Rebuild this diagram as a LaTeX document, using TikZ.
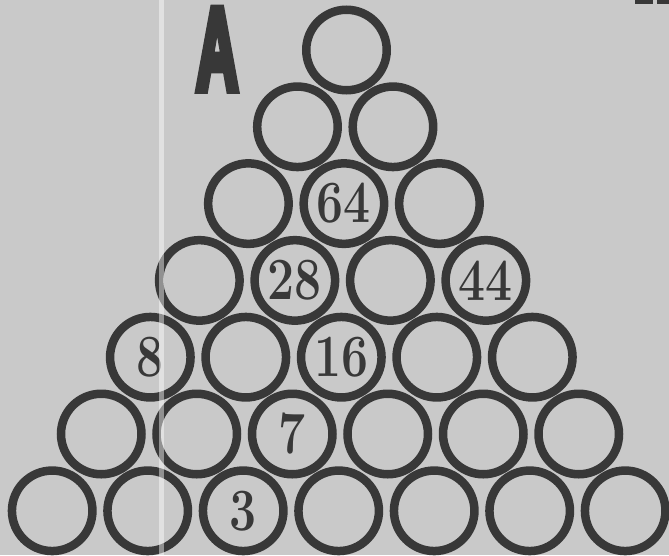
\documentclass[tikz,border=0pt]{standalone}
\usepackage{graphicx}
\usepackage{fontspec}
\newfontfamily\headfont[FakeBold=8]{Liberation Sans Bold}
\definecolor{bgc}{RGB}{201,201,201}
\definecolor{inkc}{RGB}{56,56,56}
\begin{document}
\begin{tikzpicture}[x=1pt,y=-1pt,
  ring/.style={circle,draw=inkc,line width=8.5pt,minimum size=80.5pt,inner sep=0pt},
  digit/.style={inner sep=0pt,text=inkc,font=\fontsize{60}{60}\selectfont\bfseries}]
\useasboundingbox (0,0) rectangle (669,555);
\fill[bgc] (0,0) rectangle (669,555);
\foreach \r in {1,...,7}{
  \foreach \k in {1,...,\r}{
    \pgfmathsetmacro{\cx}{346.5-1.3*(\r-1)+95.5*(\k-(\r+1)/2)}
    \pgfmathsetmacro{\cy}{50+76.8*(\r-1)}
    \node[ring] (c-\r-\k) at (\cx,\cy) {};
  }
}
\node[digit] (t64) at (c-3-2) {\scalebox{0.8}[1]{64}};
\node[digit] (t28) at (c-4-2) {\scalebox{0.8}[1]{28}};
\node[digit] (t44) at (c-4-4) {\scalebox{0.8}[1]{44}};
\node[digit] (t8)  at (c-5-1) {\scalebox{0.8}[1]{8}};
\node[digit] (t16) at (c-5-3) {\scalebox{0.8}[1]{16}};
\node[digit] (t7)  at (c-6-3) {\scalebox{0.8}[1]{7}};
\node[digit] (t3)  at (c-7-3) {\scalebox{0.8}[1]{3}};
\node[anchor=north west,inner sep=0pt,text=inkc] (A) at (196,9)
  {\resizebox{42pt}{80pt}{\headfont A}};
\fill[inkc] (635,0) rectangle (653,4);
\fill[inkc] (657,0) rectangle (669,4);
\fill[white,opacity=0.45] (159,0) rectangle (164,555);
\end{tikzpicture}
\end{document}
